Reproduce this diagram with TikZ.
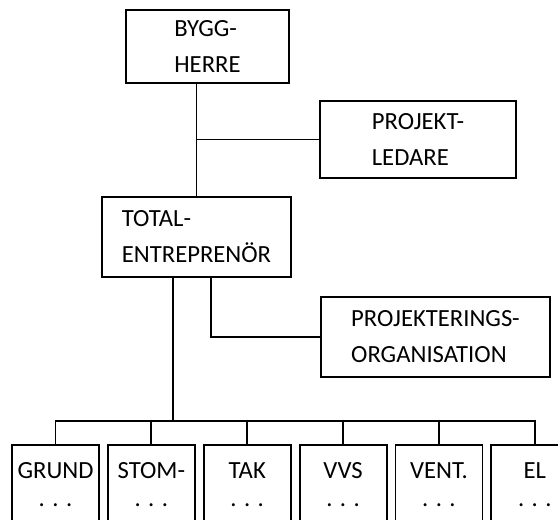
\documentclass[tikz,border=0pt]{standalone}
\usepackage{fontspec}
\setmainfont{Carlito}
\usepackage{tikz}
\usetikzlibrary{positioning}

\begin{document}
\begin{tikzpicture}[
    x=0.75pt, y=-0.75pt,
    node distance=5.25pt,
    org/.style={rectangle, draw, line width=1.4pt, align=left,
                font=\fontsize{18.5}{27}\selectfont},
    trade/.style={rectangle, draw, line width=1.4pt, align=center,
                  minimum width=65.25pt, minimum height=60pt,
                  font=\fontsize{18.5}{21}\selectfont},
    link/.style={line width=1.4pt},
]
    \clip (0,0) rectangle (558,520);

    \node[org, minimum width=122.25pt, minimum height=54.75pt] (bygg) at (207.5,46.5) {BYGG-\\HERRE};
    \node[org, minimum width=147pt, minimum height=57.75pt] (ledare) at (418,139.5) {PROJEKT-\\LEDARE};
    \node[org, minimum width=141.75pt, minimum height=60pt] (total) at (196.5,237) {TOTAL-\\ENTREPRENÖR};
    \node[org, minimum width=171.75pt, minimum height=60pt] (proj) at (435.5,337) {PROJEKTERINGS-\\ORGANISATION};

    % entreprenader
    \node[trade, anchor=north] (grund) at (55.5,444) {GRUND\\. . .};
    \node[trade, right=of grund] (stom) {STOM-\\. . .};
    \node[trade, right=of stom] (tak) {TAK\\. . .};
    \node[trade, right=of tak] (vvs) {VVS\\. . .};
    \node[trade, right=of vvs] (vent) {VENT.\\. . .};
    \node[trade, right=of vent] (el) {EL\\. . .};

    \coordinate (bus) at (173,421);

    \draw[link] (total.north) -- (total.north |- bygg.south);
    \draw[link] (ledare.west) -- (ledare.west -| total.north);
    \draw[link] ([xshift=10.9pt]total.south) |- (proj.west);
    \draw[link] (total.south -| bus) -- (bus);
    \draw[link] (grund.north) -- (grund.north |- bus) -| (el.north);
    \draw[link] (stom.north) -- (stom.north |- bus);
    \draw[link] (tak.north) -- (tak.north |- bus);
    \draw[link] (vvs.north) -- (vvs.north |- bus);
    \draw[link] (vent.north) -- (vent.north |- bus);
\end{tikzpicture}
\end{document}
